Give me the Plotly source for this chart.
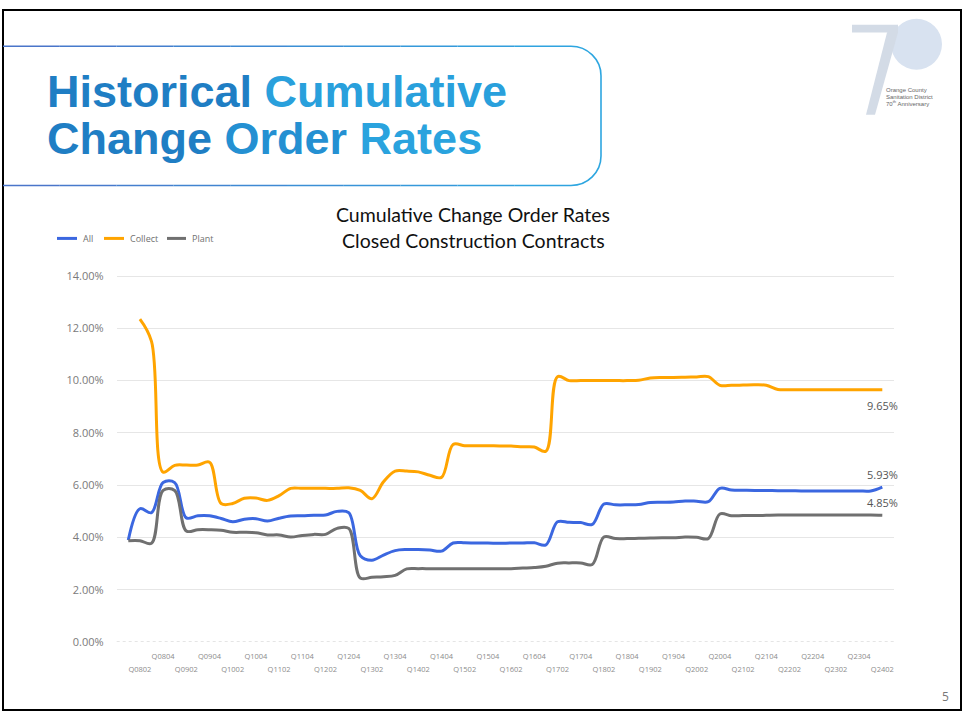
import plotly.graph_objects as go

W, H = 965, 721

# ---------------- data ----------------
quarters = [
    "Q0801", "Q0802", "Q0803", "Q0804", "Q0901", "Q0902", "Q0903", "Q0904",
    "Q1001", "Q1002", "Q1003", "Q1004", "Q1101", "Q1102", "Q1103", "Q1104",
    "Q1201", "Q1202", "Q1203", "Q1204", "Q1301", "Q1302", "Q1303", "Q1304",
    "Q1401", "Q1402", "Q1403", "Q1404", "Q1501", "Q1502", "Q1503", "Q1504",
    "Q1601", "Q1602", "Q1603", "Q1604", "Q1701", "Q1702", "Q1703", "Q1704",
    "Q1801", "Q1802", "Q1803", "Q1804", "Q1901", "Q1902", "Q1903", "Q1904",
    "Q2001", "Q2002", "Q2003", "Q2004", "Q2101", "Q2102", "Q2103", "Q2104",
    "Q2201", "Q2202", "Q2203", "Q2204", "Q2301", "Q2302", "Q2303", "Q2304",
    "Q2401", "Q2402",
]

all_rates = [
    3.90, 5.10, 4.95, 6.10, 6.10, 4.75, 4.83, 4.83,
    4.73, 4.60, 4.70, 4.72, 4.63, 4.74, 4.82, 4.83,
    4.85, 4.86, 5.00, 4.95, 3.30, 3.13, 3.33, 3.50,
    3.54, 3.54, 3.52, 3.48, 3.79, 3.80, 3.79, 3.79,
    3.78, 3.79, 3.79, 3.80, 3.72, 4.60, 4.58, 4.57,
    4.50, 5.28, 5.25, 5.25, 5.26, 5.34, 5.35, 5.36,
    5.40, 5.39, 5.37, 5.88, 5.82, 5.81, 5.80, 5.80,
    5.79, 5.79, 5.78, 5.78, 5.78, 5.78, 5.78, 5.78,
    5.78, 5.93,
]

collect_rates = [
    None, 12.35, 11.50, 6.50, 6.76, 6.77, 6.77, 6.88,
    5.30, 5.30, 5.50, 5.51, 5.42, 5.60, 5.88, 5.88,
    5.88, 5.88, 5.88, 5.90, 5.80, 5.48, 6.13, 6.54,
    6.54, 6.51, 6.38, 6.30, 7.56, 7.51, 7.51, 7.51,
    7.50, 7.50, 7.47, 7.46, 7.30, 10.15, 10.00, 10.00,
    10.00, 10.00, 10.00, 10.00, 10.01, 10.10, 10.12, 10.12,
    10.13, 10.14, 10.15, 9.82, 9.82, 9.83, 9.84, 9.82,
    9.66, 9.65, 9.65, 9.65, 9.65, 9.65, 9.65, 9.65,
    9.65, 9.65,
]

plant_rates = [
    3.88, 3.88, 3.78, 5.80, 5.80, 4.25, 4.30, 4.30,
    4.28, 4.20, 4.20, 4.18, 4.10, 4.10, 4.02, 4.08,
    4.12, 4.12, 4.35, 4.35, 2.45, 2.48, 2.50, 2.55,
    2.80, 2.81, 2.81, 2.81, 2.81, 2.81, 2.81, 2.81,
    2.81, 2.81, 2.83, 2.85, 2.90, 3.02, 3.03, 3.03,
    2.97, 4.02, 3.96, 3.96, 3.97, 3.98, 3.99, 3.99,
    4.02, 4.01, 3.96, 4.90, 4.83, 4.84, 4.84, 4.85,
    4.86, 4.86, 4.86, 4.86, 4.86, 4.86, 4.86, 4.86,
    4.86, 4.85,
]

series_names = ["All", "Collect", "Plant"]
series_values = [all_rates, collect_rates, plant_rates]
series_colors = ["#3B67E0", "#FFA400", "#707070"]
y_ticks = [0, 2, 4, 6, 8, 10, 12, 14]
y_tick_labels = [f"{v:.2f}%" for v in y_ticks]

slide_title = ["Historical Cumulative", "Change Order Rates"]
chart_title = ["Cumulative Change Order Rates", "Closed Construction Contracts"]
logo_lines = ["Orange County", "Sanitation District", "70<sup>th</sup> Anniversary"]
page_number = "5"

assert len(all_rates) == len(quarters) == len(collect_rates) == len(plant_rates)


# ---------------- helpers ----------------
def fx(px):
    return px / W


def fy(py):
    return 1 - py / H


def lerp_color(c1, c2, t):
    a = [int(c1[i:i + 2], 16) for i in (1, 3, 5)]
    b = [int(c2[i:i + 2], 16) for i in (1, 3, 5)]
    return "#" + "".join(f"{round(a[k] + (b[k] - a[k]) * t):02X}" for k in range(3))


x_idx = list(range(len(quarters)))
upper_idx = [i for i, q in enumerate(quarters) if q.endswith("04")]
lower_idx = [i for i, q in enumerate(quarters) if q.endswith("02")]

fig = go.Figure()

for name, vals, col in zip(series_names, series_values, series_colors):
    fig.add_trace(go.Scatter(
        x=x_idx, y=vals, name=name, mode="lines",
        line=dict(color=col, width=3, shape="spline", smoothing=1.0),
        showlegend=False, hoverinfo="skip",
    ))

# invisible helper trace so the second (staggered) category axis is drawn
fig.add_trace(go.Scatter(
    x=x_idx, y=all_rates, xaxis="x2", mode="lines",
    line=dict(width=0), opacity=0, showlegend=False, hoverinfo="skip",
))

x_dom = [fx(116.7), fx(893.9)]
x_rng = [-1, len(quarters)]
tick_font = dict(family="Open Sans", size=7.5, color="#8C8C8C")

fig.update_layout(
    width=W,
    margin=dict(l=0, r=0, t=0, b=0),
    paper_bgcolor="white", plot_bgcolor="white",
    showlegend=False,
    xaxis=dict(
        domain=x_dom, range=x_rng, showgrid=False, zeroline=False, showline=False,
        tickmode="array", tickvals=upper_idx, ticktext=[quarters[i] for i in upper_idx],
        ticks="", tickfont=tick_font, ticklabelstandoff=8,
    ),
    xaxis2=dict(
        overlaying="x", anchor="y", side="bottom", range=x_rng,
        showgrid=False, zeroline=False, showline=False,
        tickmode="array", tickvals=lower_idx, ticktext=[quarters[i] for i in lower_idx],
        ticks="", tickfont=tick_font, ticklabelstandoff=21,
    ),
    yaxis=dict(
        domain=[fy(647.7), fy(273.0)], range=[0, 14.05],
        tickmode="array", tickvals=y_ticks, ticktext=y_tick_labels,
        showgrid=True, gridcolor="#E6E6E6", gridwidth=1,
        zeroline=True, zerolinecolor="white", zerolinewidth=1, showline=False,
        ticks="", tickfont=dict(family="Open Sans", size=11, color="#7A7A7A"),
        ticklabelstandoff=12,
    ),
)

shapes = []
# dotted baseline at 0%
shapes.append(dict(type="line", xref="paper", yref="y", x0=x_dom[0], x1=x_dom[1], y0=0, y1=0,
                   line=dict(color="#BDBDBD", width=1, dash="dot")))

# slide border
shapes.append(dict(type="rect", xref="paper", yref="paper",
                   x0=fx(3), x1=fx(961), y0=fy(717), y1=fy(3),
                   line=dict(color="black", width=2), fillcolor="rgba(0,0,0,0)"))

# title box with gradient-like outline
c_left, c_right = "#4C72C8", "#2DA6E0"
x_start, x_corner, x_right = 3, 571, 601
y_top, y_bot = 40, 182
nseg = 10
for k in range(nseg):
    xa = x_start + (x_corner - x_start) * k / nseg
    xb = x_start + (x_corner - x_start) * (k + 1) / nseg
    col = lerp_color(c_left, c_right, (k + 0.5) / nseg)
    for yy in (y_top, y_bot):
        shapes.append(dict(type="line", xref="paper", yref="paper",
                           x0=fx(xa), x1=fx(xb), y0=fy(yy), y1=fy(yy),
                           line=dict(color=col, width=1.6)))
r = x_right - x_corner
kap = 0.5523 * r
path = (
    f"M {fx(x_corner)},{fy(y_top)} "
    f"C {fx(x_corner + kap)},{fy(y_top)} {fx(x_right)},{fy(y_top + r - kap)} {fx(x_right)},{fy(y_top + r)} "
    f"L {fx(x_right)},{fy(y_bot - r)} "
    f"C {fx(x_right)},{fy(y_bot - r + kap)} {fx(x_corner + kap)},{fy(y_bot)} {fx(x_corner)},{fy(y_bot)}"
)
shapes.append(dict(type="path", xref="paper", yref="paper", path=path,
                   line=dict(color=c_right, width=1.6)))

# logo "70"
shapes.append(dict(type="circle", xref="paper", yref="paper",
                   x0=fx(891), x1=fx(942), y0=fy(64), y1=fy(12),
                   fillcolor="#D8E2F0", line=dict(width=0), layer="below"))
shapes.append(dict(type="rect", xref="paper", yref="paper",
                   x0=fx(852), x1=fx(898), y0=fy(26), y1=fy(18),
                   fillcolor="#D3DBE6", line=dict(width=0)))
shapes.append(dict(type="path", xref="paper", yref="paper",
                   path=f"M {fx(887)},{fy(26)} L {fx(898)},{fy(18)} L {fx(898)},{fy(26)} "
                        f"L {fx(875)},{fy(110)} L {fx(866)},{fy(110)} Z",
                   fillcolor="#D3DBE6", line=dict(width=0)))

# manual legend
legend_x = [(57, 77, 81), (104, 124, 128), (167, 186, 190)]
for (xa, xb, _), col in zip(legend_x, series_colors):
    shapes.append(dict(type="line", xref="paper", yref="paper",
                       x0=fx(xa), x1=fx(xb), y0=fy(236), y1=fy(236),
                       line=dict(color=col, width=3)))

fig.update_layout(shapes=shapes)

ann = []
# slide title
word_cols = {"Historical": "#1F7EC4", "Cumulative": "#29A0DC",
             "Change": "#1F7EC4", "Order": "#2490D2", "Rates": "#2AA3DE"}
for line, yc in zip(slide_title, (86, 134)):
    txt = " ".join(f'<span style="color:{word_cols.get(w, "#2390D2")}">{w}</span>' for w in line.split())
    ann.append(dict(text=f"<b>{txt}</b>", x=fx(45), y=fy(yc), xref="paper", yref="paper",
                    xanchor="left", yanchor="middle", showarrow=False,
                    font=dict(family="Liberation Sans", size=45, color="#2390D2")))

# chart title
for line, yc in zip(chart_title, (212, 238)):
    ann.append(dict(text=line, x=fx(473), y=fy(yc), xref="paper", yref="paper",
                    xanchor="center", yanchor="middle", showarrow=False,
                    font=dict(family="Lato", size=19.5, color="#111111")))

# legend texts
for (xa, xb, xt), name in zip(legend_x, series_names):
    ann.append(dict(text=name, x=fx(xt), y=fy(236), xref="paper", yref="paper",
                    xanchor="left", yanchor="middle", showarrow=False,
                    font=dict(family="Open Sans", size=9, color="#707070")))

# end-of-line data labels
label_shift = [13, -16, 13]
for vals, sh in zip(series_values, label_shift):
    v = vals[-1]
    ann.append(dict(text=f"{v:.2f}%", x=x_idx[-1], y=v, xref="x", yref="y",
                    xanchor="center", yanchor="middle", yshift=sh, showarrow=False,
                    font=dict(family="Open Sans", size=11, color="#555555")))

# logo text
for line, yc in zip(logo_lines, (85, 91.5, 98)):
    ann.append(dict(text=line, x=fx(884), y=fy(yc), xref="paper", yref="paper",
                    xanchor="left", yanchor="middle", showarrow=False,
                    font=dict(family="Liberation Sans", size=6, color="#666666")))

# page number
ann.append(dict(text=page_number, x=fx(945), y=fy(703), xref="paper", yref="paper",
                xanchor="center", yanchor="middle", showarrow=False,
                font=dict(family="Open Sans", size=12, color="#777777")))

fig.update_layout(annotations=ann)

fig.write_html(
    "out.html",
    default_height=f"{H}px; position:absolute; left:0px; top:0px; overflow:hidden",
    config={"displayModeBar": False},
    post_script="document.body.style.margin='0'; document.body.style.overflow='hidden';",
)
